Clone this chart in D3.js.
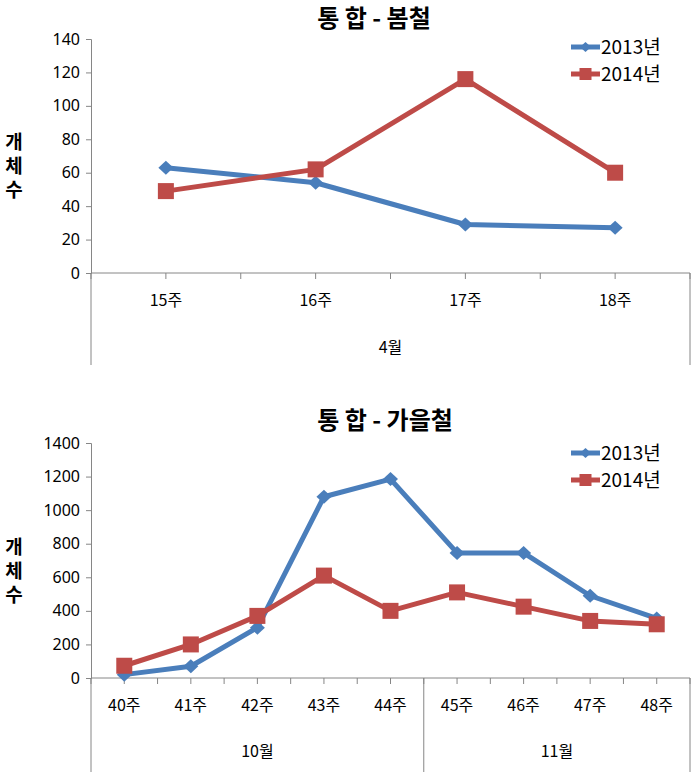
<!DOCTYPE html>
<html><head><meta charset="utf-8">
<script src="https://cdn.jsdelivr.net/npm/d3@7"></script>
<style>body{margin:0;background:#fff}svg{display:block}</style>
</head><body>
<script>
// ---- data ----
const springWeeks = ["15주","16주","17주","18주"];
const springMonths = [{label:"4월", span:4}];
const spring2013 = [63, 54, 29, 27];
const spring2014 = [49, 62, 116, 60];
const springTicks = [0,20,40,60,80,100,120,140];

const autumnWeeks = ["40주","41주","42주","43주","44주","45주","46주","47주","48주"];
const autumnMonths = [{label:"10월", span:5},{label:"11월", span:4}];
const autumn2013 = [20, 70, 300, 1080, 1185, 745, 745, 490, 355];
const autumn2014 = [73, 200, 370, 610, 400, 510, 425, 340, 320];
const autumnTicks = [0,200,400,600,800,1000,1200,1400];

const seriesNames = ["2013년","2014년"];
const colors = ["#4a7ebb","#be4b48"];

const W = 694, H = 772;
const svg = d3.select("body").append("svg").attr("width",W).attr("height",H);
const FONT = "'Noto Sans','Noto Sans CJK KR',sans-serif";
const KFONT = "'Noto Sans CJK KR','Noto Sans',sans-serif";

function chart(cfg){
  const g = svg.append("g");
  const x = d3.scaleBand().domain(cfg.cats).range([91,690]);
  const y = d3.scaleLinear().domain([0, cfg.ticks[cfg.ticks.length-1]]).range([cfg.y0, cfg.y1]);
  const axisColor = "#868686";

  // title
  g.append("text").attr("x",cfg.titleX).attr("y",cfg.titleY).attr("text-anchor","middle")
    .attr("font-family",KFONT).attr("font-weight","bold").attr("font-size",24).text(cfg.title);

  // y axis
  const ya = g.append("g").attr("transform","translate(91,0)")
    .call(d3.axisLeft(y).tickValues(cfg.ticks).tickSize(5).tickPadding(6).tickFormat(d3.format("d")));
  ya.select(".domain").attr("stroke",axisColor);
  ya.selectAll(".tick line").attr("stroke",axisColor);
  ya.selectAll("text").attr("font-family",FONT).attr("font-size",16).attr("fill","#000");

  // y label (vertical, stacked)
  g.append("text").attr("x",14).attr("y",cfg.ylabY)
    .style("writing-mode","vertical-rl").style("letter-spacing","5px")
    .attr("font-family",KFONT).attr("font-weight","bold").attr("font-size",19).text("개체수");

  // x axis line
  g.append("line").attr("x1",91).attr("x2",690).attr("y1",cfg.y0).attr("y2",cfg.y0).attr("stroke",axisColor);
  // ticks at every half band
  const bw = x.bandwidth();
  d3.range(0, cfg.cats.length*2+1).forEach(k=>{
    const xx = 91 + k*bw/2;
    g.append("line").attr("x1",xx).attr("x2",xx).attr("y1",cfg.y0).attr("y2",cfg.y0+6).attr("stroke",axisColor);
  });
  // category labels
  g.selectAll(".cat").data(cfg.cats).join("text")
    .attr("x",d=>x(d)+bw/2).attr("y",cfg.y0+cfg.catDy).attr("text-anchor","middle")
    .attr("font-family",KFONT).attr("font-size",16).attr("fill","#000").text(d=>d);
  // month groups
  let start = 0;
  const seps = [91];
  cfg.months.forEach(m=>{
    const x0 = 91 + start*bw, x1 = 91 + (start+m.span)*bw;
    g.append("text").attr("x",(x0+x1)/2).attr("y",cfg.y0+cfg.monDy).attr("text-anchor","middle")
      .attr("font-family",KFONT).attr("font-size",16).attr("fill","#000").text(m.label);
    start += m.span;
    seps.push(x1);
  });
  seps.forEach(sx=>{
    g.append("line").attr("x1",sx).attr("x2",sx).attr("y1",cfg.y0).attr("y2",cfg.y0+cfg.sepLen).attr("stroke",axisColor);
  });

  // series
  const line = d3.line().x((d,i)=>x(cfg.cats[i])+bw/2).y(d=>y(d));
  cfg.series.forEach((s,si)=>{
    g.append("path").datum(s).attr("d",line).attr("fill","none")
      .attr("stroke",colors[si]).attr("stroke-width",5).attr("stroke-linejoin","round");
  });
  cfg.series.forEach((s,si)=>{
    s.forEach((v,i)=>{
      const cx = x(cfg.cats[i])+bw/2, cy = y(v);
      if(si===0){
        g.append("path").attr("d",`M${cx},${cy-7}L${cx+7.5},${cy}L${cx},${cy+7}L${cx-7.5},${cy}Z`).attr("fill",colors[0]);
      } else {
        g.append("rect").attr("x",cx-8).attr("y",cy-8).attr("width",16).attr("height",16).attr("fill",colors[1]);
      }
    });
  });

  // legend
  seriesNames.forEach((n,si)=>{
    const ly = cfg.legY + si*27;
    g.append("line").attr("x1",571).attr("x2",600).attr("y1",ly).attr("y2",ly).attr("stroke",colors[si]).attr("stroke-width",5);
    const cx = 585.5;
    if(si===0){
      g.append("path").attr("d",`M${cx},${ly-5}L${cx+5.5},${ly}L${cx},${ly+5}L${cx-5.5},${ly}Z`).attr("fill",colors[0]);
    } else {
      g.append("rect").attr("x",cx-6).attr("y",ly-6).attr("width",12).attr("height",12).attr("fill",colors[1]);
    }
    g.append("text").attr("x",601).attr("y",ly+7).attr("font-family",KFONT).attr("font-size",19).attr("fill","#000").text(n);
  });
}

chart({title:"통 합 - 봄철", titleX:374, titleY:27, cats:springWeeks, months:springMonths,
  series:[spring2013, spring2014], ticks:springTicks, y0:273, y1:39, ylabY:132,
  catDy:33, monDy:80, sepLen:92, legY:47});
chart({title:"통 합 - 가을철", titleX:385, titleY:429, cats:autumnWeeks, months:autumnMonths,
  series:[autumn2013, autumn2014], ticks:autumnTicks, y0:678, y1:443, ylabY:537,
  catDy:33, monDy:79, sepLen:94, legY:453});
</script>
</body></html>
